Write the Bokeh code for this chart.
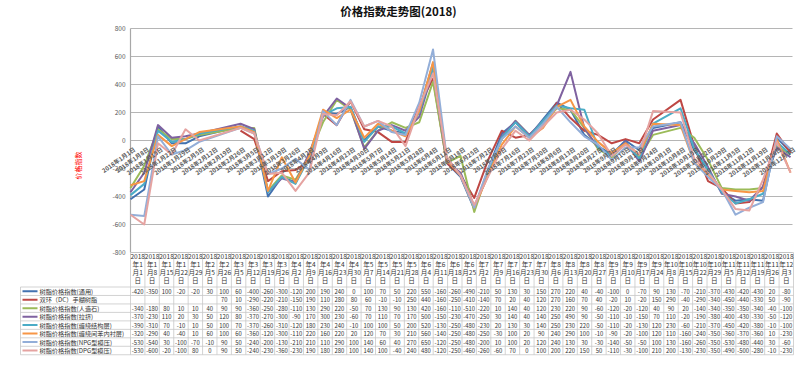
import math
from datetime import datetime
import pandas as pd
from bokeh.plotting import figure
from bokeh.models import Range1d, ColumnDataSource, LabelSet, Label
from bokeh.core.properties import value
from bokeh.embed import file_html
from bokeh.resources import INLINE

FONT = "Noto Sans CJK SC"

# ---------------- data ----------------
dates = ["2018-01-01", "2018-01-08", "2018-01-15", "2018-01-22", "2018-01-29", "2018-02-05",
         "2018-02-26", "2018-03-05", "2018-03-12", "2018-03-19", "2018-03-26", "2018-04-02",
         "2018-04-09", "2018-04-16", "2018-04-23", "2018-04-30", "2018-05-07", "2018-05-14",
         "2018-05-21", "2018-05-28", "2018-06-04", "2018-06-11", "2018-06-18", "2018-06-25",
         "2018-07-02", "2018-07-09", "2018-07-16", "2018-07-23", "2018-07-30", "2018-08-06",
         "2018-08-13", "2018-08-20", "2018-08-27", "2018-09-03", "2018-09-10", "2018-09-17",
         "2018-09-24", "2018-10-08", "2018-10-15", "2018-10-22", "2018-10-29", "2018-11-05",
         "2018-11-12", "2018-11-19", "2018-11-26", "2018-12-03"]

names = ["树脂价格指数(通用)", "双环（DC）手糊树脂", "树脂价格指数(人造石)", "树脂价格指数(拉挤)",
         "树脂价格指数(缠绕结构层)", "树脂价格指数(缠绕间苯内衬层)", "树脂价格指数(NPG型模压)",
         "树脂价格指数(DPG型模压)"]

general = [-420, -350, 100, -20, -20, 30, 100, 60, -400,
           -260, -300, -120, 200, 190, 240, 0, 100, 70, 50, 220, 550, -160, -260, -490, -210, 50, 130, 30,
           150, 270, 220, 40, -40, -100, 0, -70, 90, 130, -70, -210, -370, -430, -420, -430, 20, -80]
dc_resin = [None, None, None, None, None, None, 70, 10, -290,
            -220, -210, -150, 190, 110, 280, 80, 60, -10, -10, 250, 440, -160, -250, -410, -140, 70, 20, 40,
            120, 270, 160, 70, 40, -20, 10, -20, 150, 290, -40, -290, -340, -450, -440, -330, 50, -90]
stone = [-340, -180, 80, 10, 10, 40, 90, 90, -360,
         -250, -280, -110, 130, 290, 220, -50, 70, 130, 90, 130, 420, -160, -110, -510, -220, 10, 140, 40,
         120, 230, 220, 90, -60, -120, -20, -120, 40, 90, 20, -140, -340, -350, -350, -340, -40, -100]
pultrusion = [-370, -230, 110, 20, 30, 50, 120, 80, -370,
              -270, -300, -90, 170, 300, 230, -60, 70, 110, 70, 170, 500, -150, -230, -470, -250, 30, 140, 40,
              140, 250, 490, 90, -50, -110, -10, -150, 70, 110, -20, -190, -380, -400, -430, -330, -50, -120]
winding_struct = [-390, -310, 70, -10, 10, 50, 100, 70, -370,
                  -260, -310, -120, 180, 230, 240, -10, 100, 100, 50, 200, 520, -130, -250, -480, -230, 20, 130, 30,
                  140, 250, 230, 220, -50, -110, -20, -130, 120, 230, -60, -210, -370, -450, -420, -380, -10, -100]
winding_liner = [-320, -290, 40, -40, 10, 60, 100, 60, -360,
                 -120, -300, -110, 220, 160, 220, 20, 120, 70, 30, 210, 560, -140, -250, -480, -250, -30, 100, 20,
                 90, 240, 290, 100, -10, -90, -20, -100, 120, 110, -160, -240, -350, -360, -370, -360, 10, -230]
npg = [-530, -540, 30, -100, -70, -10, 90, 50, -240,
       -200, -130, -210, 210, 110, 290, 100, 140, 60, 40, 270, 650, -120, -250, -480, -200, 10, 100, 20,
       120, 240, 130, 30, -30, -140, -50, -50, 100, 130, -160, -260, -350, -530, -480, -440, 30, -60]
dpg = [-530, -600, -20, -100, 80, 0, 90, 50, -240,
       -230, -360, -230, 190, 180, 280, 100, 140, 100, -40, 240, 480, -120, -250, -460, -260, -60, 70, 0,
       100, 200, 220, 150, 50, -110, -30, -100, 210, 200, -130, -230, -350, -490, -500, -280, -10, -230]

series = [general, dc_resin, stone, pultrusion, winding_struct, winding_liner, npg, dpg]
colors = ["#4272B0", "#BE4744", "#9BBB59", "#7F62A0", "#4BACC6", "#F79646", "#93AED8", "#E5A3A1"]

y_ticks = [-800, -600, -400, -200, 0, 200, 400, 600, 800]
week_ticks = pd.date_range("2018-01-01", "2018-12-03", freq="7D")

# ---------------- figure (frame covers the whole canvas) ----------------
W, H = 800, 369
FL, FR, FT, FB = 130, 792, 28, 252          # chart area edges (pixels)
X_START, X_END = pd.Timestamp("2018-01-01"), pd.Timestamp("2018-12-04")
Y_MIN, Y_MAX = -800, 800

xs_ms = X_START.value / 1e6
xe_ms = X_END.value / 1e6
MSPP = (xe_ms - xs_ms) / (FR - FL)
UPP = (Y_MAX - Y_MIN) / (FB - FT)
def PX(px):
    return xs_ms + (px - FL) * MSPP
def PY(py):
    return Y_MAX - (py - FT) * UPP

p = figure(width=W, height=H, x_axis_type=None, y_axis_type=None,
           x_range=Range1d(PX(0), PX(W)), y_range=Range1d(PY(H), PY(0)),
           output_backend="svg", toolbar_location=None,
           min_border_left=0, min_border_right=0, min_border_top=0, min_border_bottom=0)
p.outline_line_color = None
p.background_fill_color = "white"
p.border_fill_color = "white"
p.grid.visible = False

# horizontal grid and vertical value axis
p.segment(x0=[xs_ms] * len(y_ticks), x1=[xe_ms] * len(y_ticks), y0=y_ticks, y1=y_ticks,
          line_color="#B5B5B5", line_width=1.2)
p.segment(x0=[xs_ms], x1=[xs_ms], y0=[Y_MIN], y1=[Y_MAX], line_color="#A8A8A8", line_width=1.2)
p.add_layout(LabelSet(x="x", y="y", text="text",
                      source=ColumnDataSource(dict(x=[PX(FL - 5)] * len(y_ticks), y=y_ticks,
                                                   text=[str(t) for t in y_ticks])),
                      text_align="right", text_baseline="middle", text_font=value(FONT),
                      text_font_size=value("6.5px"), text_color="#595959"))

x_dt = pd.to_datetime(dates)
for s, c in zip(series, colors):
    ys = [float("nan") if v is None else v for v in s]
    p.line(x_dt, ys, line_color=c, line_width=2, line_join="round")

# rotated week labels along the zero line
wk_src = ColumnDataSource(dict(x=week_ticks, y=[0] * len(week_ticks),
                               text=[f"{d.year}年{d.month}月{d.day}日" for d in week_ticks]))
p.add_layout(LabelSet(x="x", y="y", text="text", source=wk_src, angle=0.62,
                      text_align="right", text_baseline="middle", x_offset=4, y_offset=-8,
                      text_font=value(FONT), text_font_size=value("6px"), text_font_style="bold",
                      text_color="#5A5A5A"))

# title and y label
p.add_layout(Label(x=PX(398), y=PY(10), text="价格指数走势图(2018)",
                   text_align="center", text_baseline="middle", text_font=FONT,
                   text_font_size="11.5px", text_font_style="bold", text_color="#111111"))
p.add_layout(Label(x=PX(77), y=PY(165), text="价格指数",
                   angle=math.pi / 2, text_align="center", text_baseline="middle", text_font=FONT,
                   text_font_size="7px", text_color="#FF0000"))

# ---------------- data table ----------------
TX0, TX1 = 130.0, 793.0
CW = (TX1 - TX0) / len(dates)
HY0, HY1 = 252.0, 286.5
RH = 8.47
TY1 = HY1 + RH * len(series)
LX0 = 20.0

seg = dict(x0=[], y0=[], x1=[], y1=[])
def add_seg(a, b, c, d):
    seg["x0"].append(PX(a)); seg["y0"].append(PY(b)); seg["x1"].append(PX(c)); seg["y1"].append(PY(d))

for k in range(len(dates) + 1):
    add_seg(TX0 + k * CW, HY0, TX0 + k * CW, TY1)
add_seg(LX0, HY1, LX0, TY1)
add_seg(TX0, HY0, TX1, HY0)
for r in range(len(series) + 1):
    add_seg(LX0, HY1 + r * RH, TX1, HY1 + r * RH)
p.segment(x0="x0", y0="y0", x1="x1", y1="y1", source=ColumnDataSource(seg),
          line_color="#C8C8C8", line_width=0.8)

hdr = dict(x=[], y=[], text=[])
for c, d in enumerate(x_dt):
    xc = TX0 + (c + 0.5) * CW
    for k, t in enumerate(["2018", f"年{d.month}", f"月{d.day}", "日"]):
        hdr["x"].append(PX(xc)); hdr["y"].append(PY(255.8 + 8 * k)); hdr["text"].append(t)
p.add_layout(LabelSet(x="x", y="y", text="text", source=ColumnDataSource(hdr),
                      text_align="center", text_baseline="middle", text_font=value(FONT),
                      text_font_size=value("6.6px"), text_color="#333333"))

cells = dict(x=[], y=[], text=[])
for r, s in enumerate(series):
    yc = HY1 + (r + 0.5) * RH
    for c, v in enumerate(s):
        if v is None:
            continue
        cells["x"].append(PX(TX0 + (c + 0.5) * CW)); cells["y"].append(PY(yc)); cells["text"].append(str(v))
p.add_layout(LabelSet(x="x", y="y", text="text", source=ColumnDataSource(cells),
                      text_align="center", text_baseline="middle", text_font=value(FONT),
                      text_font_size=value("5.9px"), text_color="#333333"))

leg_y = [PY(HY1 + (r + 0.5) * RH) for r in range(len(series))]
p.segment(x0=[PX(22.0)] * len(series), x1=[PX(37.0)] * len(series), y0=leg_y, y1=leg_y,
          line_color=colors, line_width=2)
p.add_layout(LabelSet(x="x", y="y", text="text",
                      source=ColumnDataSource(dict(x=[PX(39.0)] * len(series), y=leg_y, text=names)),
                      text_align="left", text_baseline="middle", text_font=value(FONT),
                      text_font_size=value("6.2px"), text_color="#333333"))

open("out.html", "w").write(file_html(p, INLINE))
